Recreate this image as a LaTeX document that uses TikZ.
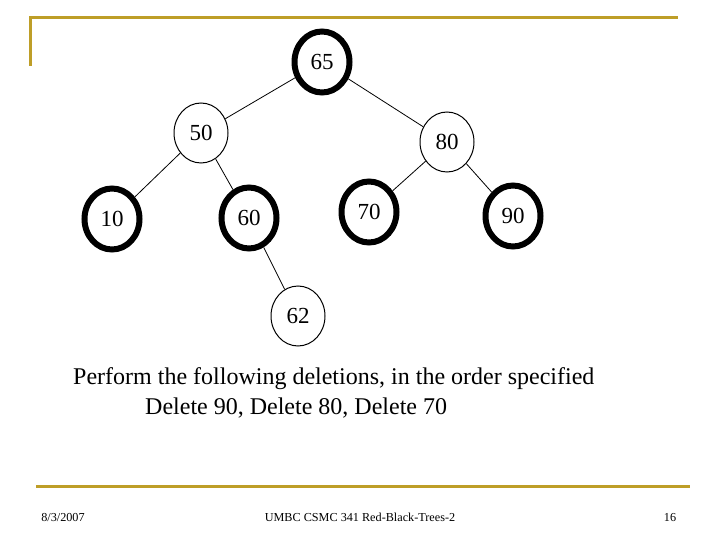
\documentclass[tikz,border=0pt]{standalone}
\usepackage{fontspec}
\setmainfont{Liberation Serif}
\usetikzlibrary{shapes.geometric}
\definecolor{gold}{RGB}{190,158,40}
\begin{document}
\begin{tikzpicture}[x=1pt,y=-1pt,
  blk/.style={ellipse,draw=black,line width=6pt,minimum width=55pt,minimum height=61pt,inner sep=0pt,font=\fontsize{23}{26}\selectfont},
  red/.style={ellipse,draw=black,line width=1pt,minimum width=54pt,minimum height=60pt,inner sep=0pt,font=\fontsize{23}{26}\selectfont},
  edge/.style={draw=black,line width=0.8pt},
  rule/.style={draw=gold,line width=3pt},
  foot/.style={anchor=base,inner sep=0pt,font=\fontsize{12.2}{14}\selectfont}]
\useasboundingbox (0,0) rectangle (720,540);
\fill[white] (0,0) rectangle (720,540);
% frame rules
\coordinate (tl) at (30,18);
\coordinate (tr) at (678,18);
\coordinate (vl) at (30,66);
\coordinate (bl) at (36,486);
\coordinate (br) at (690,486);
\draw[rule] (vl) -- (tl) -- (tr);
\draw[rule] (bl) -- (br);
% nodes
\node[blk] (n65) at (322,62) {65};
\node[red] (n50) at (201,133) {50};
\node[red] (n80) at (447,142) {80};
\node[blk] (n10) at (112,219) {10};
\node[blk] (n60) at (249,218) {60};
\node[blk] (n70) at (369,212) {70};
\node[blk] (n90) at (513,216) {90};
\node[red] (n62) at (298,316) {62};
% edges
\draw[edge] (n65) -- (n50);
\draw[edge] (n65) -- (n80);
\draw[edge] (n50) -- (n10);
\draw[edge] (n50) -- (n60);
\draw[edge] (n80) -- (n70);
\draw[edge] (n80) -- (n90);
\draw[edge] (n60) -- (n62);
% texts
\node[anchor=west,inner sep=0pt,font=\fontsize{24}{27}\selectfont] (t1) at (73,379) {Perform the following deletions, in the order specified};
\node[anchor=west,inner sep=0pt,font=\fontsize{24}{27}\selectfont] (t2) at (145,408) {Delete 90, Delete 80, Delete 70};
% footer
\node[foot] (f1) at (63,521) {8/3/2007};
\node[foot] (f2) at (360,521) {UMBC CSMC 341 Red-Black-Trees-2};
\node[foot] (f3) at (670,521) {16};
\end{tikzpicture}
\end{document}
